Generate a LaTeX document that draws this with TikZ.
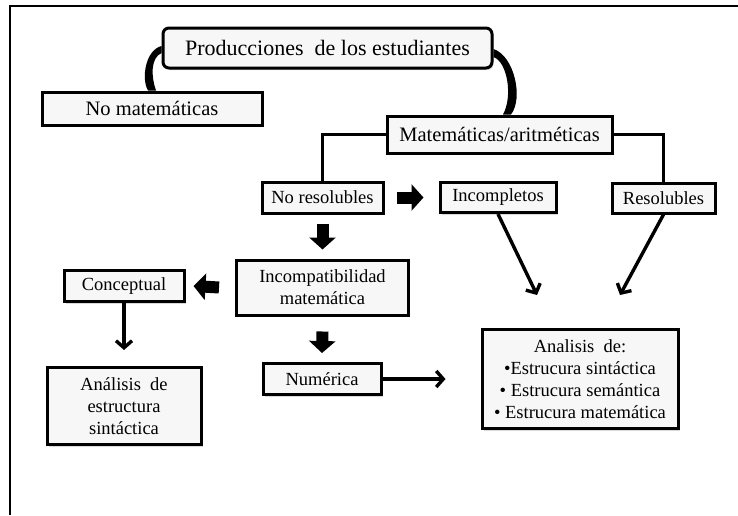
\documentclass[tikz,border=0pt]{standalone}
\usepackage{fontspec}
\setmainfont{Liberation Serif}
\usetikzlibrary{positioning}
\usetikzlibrary {arrows.meta}
\usetikzlibrary{shadows}
\tikzset{prodbox/.style={rectangle,rounded corners=6pt,draw=black,line width=3pt,fill=gray!6,
inner sep=2pt,minimum height=40pt, minimum width=329pt,font=\fontsize{22}{24}\selectfont,
drop shadow={shadow xshift=1.5pt,shadow yshift=-2pt,opacity=.3}}}
\tikzset{catbox/.style={rectangle,draw=black,line width=3pt,fill=gray!6,align=center,
inner sep=2pt,font=\fontsize{18.5}{22}\selectfont,
drop shadow={shadow xshift=1.5pt,shadow yshift=-2pt,opacity=.3}}}
\tikzset{bigcatbox/.style={catbox,font=\fontsize{20.5}{22}\selectfont}}
\tikzset{blockarrow/.style={line width=12pt,-{Triangle[length=12pt,width=26pt]}}}
\tikzset{thinarrow/.style={line width=3.4pt,-{Straight Barb[length=7pt,width=16pt]}}}
\tikzset{branchline/.style={line width=3.2pt}}

\begin{document}
\begin{tikzpicture}[x=1pt,y=1pt]
        \useasboundingbox (0,0) rectangle (738,-515);
        \draw[line width=2.6pt] (738,-6) -- (10,-6) -- (10,-515);

        \node[prodbox] (prod) at (327.5,-48) {Producciones\ \ de los estudiantes};
        \node[bigcatbox, minimum width=220pt, minimum height=33pt] (nomat) at (152,-108.5) {No matemáticas};
        \node[bigcatbox, minimum width=225pt, minimum height=37pt] (matem) at (499.5,-134.5) {Matemáticas/aritméticas};

        \node[catbox, minimum width=121pt, minimum height=31pt] (noresol) at (322.5,-197.5) {No resolubles};
        \node[catbox, minimum width=116pt, minimum height=30pt] (incomp) [right=54pt of noresol] {Incompletos};
        \node[catbox, minimum width=103pt, minimum height=30pt] (resol) at (663.5,-198) {Resolubles};

        \node[catbox, minimum width=172pt, minimum height=55pt] (incompat) [below=44pt of noresol] {Incompatibilidad\\matemática};
        \node[catbox, minimum width=120pt, minimum height=31pt] (concep) at (124,-286) {Conceptual};
        \node[catbox, minimum width=154pt, minimum height=77pt] (analest) [below=63pt of concep] {Análisis\ \ de\\estructura\\sintáctica};
        \node[catbox, minimum width=118pt, minimum height=31pt] (numer) at (322,-379) {Numérica};
        \node[catbox, minimum width=196pt, minimum height=99pt] (analis) at (580,-379) {Analisis\ \ de:\\•Estrucura sintáctica\\• Estrucura semántica\\• Estrucura matemática};

        % curved links from the top box
        \fill ([yshift=2pt]prod.west) .. controls ([shift={(-16,-2)}]prod.west) and ([shift={(-11,12)}]nomat.north) .. ([xshift=-4pt]nomat.north)
              -- ([xshift=4pt]nomat.north) .. controls ([shift={(-1,14)}]nomat.north) and ([shift={(-11,-10)}]prod.west) .. ([yshift=-5pt]prod.west) -- cycle;
        \fill ([yshift=-1pt]prod.east) .. controls ([shift={(21,-8)}]prod.east) and ([shift={(24,16)}]matem.north) .. ([xshift=11.5pt]matem.north)
              -- ([xshift=3.5pt]matem.north) .. controls ([shift={(13.5,18)}]matem.north) and ([shift={(14,-14)}]prod.east) .. ([yshift=-9pt]prod.east) -- cycle;

        \draw[branchline] (matem.west) -| (noresol.north);
        \draw[branchline] (matem.east) -| (resol.north);

        % block arrows
        \draw[blockarrow] ([xshift=12pt]noresol.east) -- ([xshift=-15pt]incomp.west);
        \draw[blockarrow] ([yshift=-9pt]noresol.south) -- ([yshift=9pt]incompat.north);
        \draw[blockarrow] ([xshift=-16pt]incompat.west) -- ([xshift=8pt]concep.east);
        \draw[blockarrow] ([yshift=-15pt]incompat.south) -- ([yshift=9pt]numer.north);

        \draw[thinarrow] (concep.south) -- ([yshift=16pt]analest.north);
        \draw[thinarrow] (numer.east) -- ([xshift=-35pt]analis.west);
        \draw[thinarrow] (incomp.south) -- ([xshift=-43pt,yshift=33pt]analis.north);
        \draw[thinarrow] (resol.south) -- ([xshift=40pt,yshift=33pt]analis.north);

\end{tikzpicture}
\end{document}
